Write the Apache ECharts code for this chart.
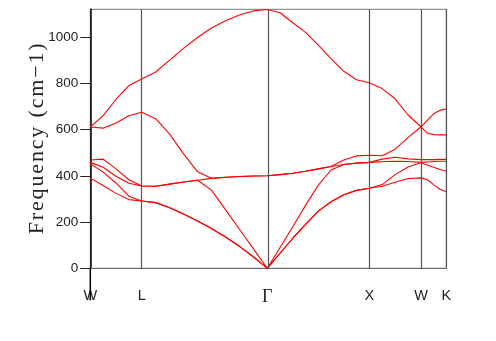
<!DOCTYPE html>
<html><head><meta charset="utf-8">
<script src="https://cdn.jsdelivr.net/npm/echarts@6/dist/echarts.min.js"></script>
<style>html,body{margin:0;padding:0;background:#fff}#c{width:496px;height:341px}</style>
</head><body><div id="c"></div>
<script>
// high-symmetry points (path distance) and their labels
const kLabels = ['W', 'L', 'Γ', 'X', 'W', 'K'];
const kTicks = [0, 0.504, 1.735, 2.735, 3.242, 3.490];
const yTicks = [0, 200, 400, 600, 800, 1000];

// path distance of each sampled q-point
const kdist = [0, 0.126, 0.252, 0.378, 0.504,
  0.641, 0.778, 0.914, 1.051, 1.188, 1.325, 1.462, 1.598, 1.735,
  1.860, 1.985, 2.110, 2.235, 2.360, 2.485, 2.610, 2.735,
  2.862, 2.988, 3.115, 3.242,
  3.304, 3.366, 3.428, 3.490];

// phonon frequencies (cm-1), bands sorted by frequency
const band1 = [390, 358, 324, 297, 291, 284, 262, 235, 205, 172, 135, 95, 50, 0,
  65, 130, 190, 247, 288, 318, 337, 346, 355, 372, 388, 391, 383, 362, 342, 331];
const band2 = [452, 416, 369, 312, 291, 284, 262, 235, 205, 172, 135, 95, 50, 0,
  65, 130, 190, 247, 288, 318, 337, 346, 362, 405, 438, 456, 447, 437, 427, 420];
const band3 = [458, 437, 398, 368, 356, 355, 364, 373, 381, 338, 254, 169, 85, 0,
  90, 180, 272, 360, 425, 449, 455, 458, 461, 463, 462, 458, 460, 462, 463, 463];
const band4 = [468, 472, 430, 383, 356, 355, 364, 373, 381, 389, 394, 397, 399, 400,
  405, 411, 420, 430, 440, 449, 455, 458, 472, 480, 473, 470, 470, 470, 471, 471];
const band5 = [611, 606, 628, 660, 675, 647, 580, 495, 418, 389, 394, 397, 399, 400,
  405, 411, 420, 430, 440, 468, 486, 489, 487, 515, 565, 612, 585, 578, 577, 577];
const band6 = [611, 660, 730, 790, 819, 849, 900, 951, 998, 1039, 1070, 1095, 1113, 1119,
  1105, 1062, 1020, 965, 907, 852, 815, 802, 777, 733, 663, 612, 640, 668, 683, 690];

const yName = 'Frequency (cm−1)';

const bands = [band1, band2, band3, band4, band5, band6];
const chart = echarts.init(document.getElementById('c'), null, {renderer: 'canvas'});

const series = bands.map(b => ({
  type: 'line', data: kdist.map((k, j) => [k, b[j]]),
  symbol: 'none', showSymbol: false, animation: false, z: 3,
  lineStyle: {color: '#ff0000', width: 1.1}
}));
series.push({
  type: 'line', data: [], animation: false, z: 2,
  markLine: {
    symbol: 'none', silent: true, animation: false,
    label: {show: false},
    lineStyle: {color: '#555', width: 1.2, type: 'solid'},
    data: kTicks.slice(1).map(k => ({xAxis: k}))
  }
});

// spaced-out axis title (hair spaces between letters)
const spacedName = Array.from(yName).join('\u200A');

chart.setOption({
  backgroundColor: '#fff',
  animation: false,
  grid: {left: 90.3, right: 49.7, top: 9.3, bottom: 72.7, show: true, borderColor: '#777', borderWidth: 1},
  xAxis: {
    type: 'value', min: kTicks[0], max: kTicks[kTicks.length - 1],
    axisLine: {show: true, onZero: false, lineStyle: {color: '#666', width: 1}},
    axisTick: {show: false},
    splitLine: {show: false},
    axisLabel: {
      customValues: kTicks, margin: 20, color: '#222', fontSize: 14.5,
      fontFamily: 'Liberation Sans',
      formatter: function (v) {
        let idx = 0, best = 1e9;
        kTicks.forEach((t, i) => { if (Math.abs(t - v) < best) { best = Math.abs(t - v); idx = i; } });
        const s = kLabels[idx];
        return s === 'Γ' ? '{g|Γ}' : s;
      },
      rich: {g: {fontFamily: 'Liberation Serif', fontSize: 18, color: '#222'}}
    }
  },
  yAxis: {
    type: 'value', min: 0, max: 1120,
    name: spacedName, nameLocation: 'middle', nameGap: 42, nameMoveOverlap: false,
    nameTextStyle: {fontFamily: 'Liberation Serif', fontSize: 22, color: '#222'},
    axisLine: {show: true, lineStyle: {color: '#000', width: 1.5}},
    axisTick: {show: true, customValues: yTicks, length: 10, lineStyle: {color: '#222', width: 1}},
    axisLabel: {
      customValues: yTicks, margin: 12, color: '#222', fontSize: 13.5, fontFamily: 'Liberation Sans',
      formatter: function (v) { return String(Math.round(v)); }
    },
    splitLine: {show: false}
  },
  series: series
});

const p0 = chart.convertToPixel({gridIndex: 0}, [0, 0]);
chart.setOption({
  graphic: [{
    type: 'line', silent: true, z: 10,
    shape: {x1: p0[0], y1: p0[1], x2: p0[0], y2: p0[1] + 32},
    style: {stroke: '#000', lineWidth: 1.5}
  }]
});
</script>
</body></html>
